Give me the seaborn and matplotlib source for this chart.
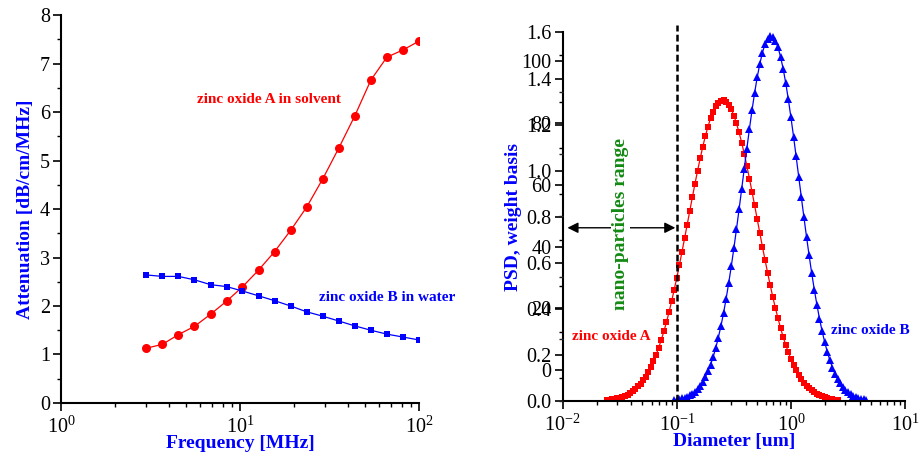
import matplotlib
matplotlib.use("Agg")
import matplotlib.pyplot as plt
import seaborn as sns
from matplotlib.ticker import MultipleLocator, LogLocator, NullFormatter, FormatStrFormatter

# attenuation spectra (left panel)
freq_mhz = [3.00, 3.69, 4.53, 5.57, 6.85, 8.42, 10.3, 12.7, 15.6, 19.2,
            23.6, 29.0, 35.7, 43.8, 53.9, 66.2, 81.4, 100.0]
atten_a = [1.13, 1.21, 1.41, 1.58, 1.83, 2.10, 2.39, 2.74, 3.12, 3.56,
           4.04, 4.62, 5.26, 5.92, 6.66, 7.13, 7.28, 7.46]
atten_b = [2.64, 2.61, 2.61, 2.54, 2.44, 2.40, 2.31, 2.21, 2.11, 2.00,
           1.88, 1.79, 1.69, 1.59, 1.50, 1.42, 1.36, 1.30]

# particle size distributions (right panel)
diameter_um = [0.02434, 0.02565, 0.02703, 0.02848, 0.03001, 0.03162, 0.03332, 0.03511,
               0.03700, 0.03899, 0.04108, 0.04329, 0.04561, 0.04806, 0.05065, 0.05337,
               0.05623, 0.05926, 0.06244, 0.06579, 0.06933, 0.07305, 0.07698, 0.08111,
               0.08547, 0.09006, 0.09490, 0.1000,
               0.1054, 0.1110, 0.1170, 0.1233, 0.1299, 0.1369, 0.1443, 0.1520, 0.1602,
               0.1688, 0.1778, 0.1874, 0.1975, 0.2081, 0.2192, 0.2310, 0.2434, 0.2565,
               0.2703, 0.2848, 0.3001, 0.3162, 0.3332, 0.3511, 0.3700, 0.3899, 0.4108,
               0.4329, 0.4561, 0.4806, 0.5065, 0.5337, 0.5623, 0.5926, 0.6244, 0.6579,
               0.6933, 0.7305, 0.7698, 0.8111, 0.8547, 0.9006, 0.9490,
               1.000, 1.054, 1.110, 1.170, 1.233, 1.299, 1.369, 1.443, 1.520, 1.602,
               1.688, 1.778, 1.874, 1.975, 2.081, 2.192, 2.310, 2.434, 2.565, 2.703,
               2.848, 3.001, 3.162, 3.332, 3.511, 3.700, 3.899, 4.108, 4.329, 4.561]
psd_a = [0.004, 0.006, 0.007, 0.009, 0.012, 0.015, 0.019, 0.023, 0.028, 0.035,
         0.043, 0.052, 0.063, 0.075, 0.090, 0.106, 0.126, 0.148, 0.172, 0.200,
         0.231, 0.265, 0.302, 0.342, 0.386, 0.434, 0.484, 0.536, 0.591, 0.648,
         0.707, 0.766, 0.826, 0.885, 0.944, 1.000, 1.053, 1.104, 1.150, 1.191,
         1.227, 1.256, 1.279, 1.295, 1.304, 1.306, 1.300, 1.286, 1.266, 1.239,
         1.205, 1.166, 1.122, 1.073, 1.021, 0.965, 0.908, 0.849, 0.789, 0.729,
         0.670, 0.613, 0.557, 0.503, 0.452, 0.404, 0.359, 0.317, 0.278, 0.243,
         0.211, 0.182, 0.157, 0.134, 0.113, 0.096, 0.080, 0.067, 0.056, 0.046,
         0.038, 0.031, 0.025, 0.020, 0.016, 0.013, 0.010, 0.008, 0.006, 0.005]
psd_b = [0.004, 0.006, 0.008, 0.011, 0.014, 0.019, 0.025, 0.032, 0.041, 0.053,
         0.067, 0.084, 0.104, 0.129, 0.157, 0.191, 0.230, 0.275, 0.325, 0.381,
         0.444, 0.512, 0.585, 0.664, 0.746, 0.832, 0.920, 1.009, 1.096, 1.182,
         1.263, 1.338, 1.406, 1.464, 1.512, 1.549, 1.573, 1.583, 1.581, 1.565,
         1.536, 1.494, 1.442, 1.380, 1.309, 1.231, 1.148, 1.062, 0.973, 0.885,
         0.798, 0.713, 0.632, 0.555, 0.484, 0.418, 0.358, 0.304, 0.256, 0.214,
         0.177, 0.145, 0.118, 0.096, 0.076, 0.061, 0.048, 0.037, 0.029, 0.022,
         0.017, 0.013, 0.010, 0.007, 0.005]
b_start = 26          # sample B starts at this diameter index
nano_limit_um = 0.1   # upper size of nano-particles

sns.set_theme(style="ticks")
plt.rcParams['font.family'] = ['Liberation Serif', 'DejaVu Serif']
plt.rcParams['mathtext.fontset'] = 'custom'
plt.rcParams['mathtext.rm'] = 'Liberation Serif'
plt.rcParams['mathtext.it'] = 'Liberation Serif:italic'
plt.rcParams['mathtext.bf'] = 'Liberation Serif:bold'

RED = "#ff0000"
BLUE = "#0000ff"
GREEN = "#138a13"
TICK_FS = 14.5
LABEL_FS = 14


def style_axes(ax):
    for s in ["top", "right"]:
        ax.spines[s].set_visible(False)
    for s in ["left", "bottom"]:
        ax.spines[s].set_linewidth(1.5)
        ax.spines[s].set_color("black")
    ax.tick_params(which="major", direction="out", length=6, width=1.2,
                   colors="black", labelsize=TICK_FS, pad=2)
    ax.tick_params(axis="x", which="major", pad=4)
    ax.tick_params(which="minor", direction="out", length=3, width=1.0, colors="black")
    ax.tick_params(axis="y", which="both", right=False)
    ax.tick_params(axis="x", which="both", top=False)
    ax.grid(False)


fig = plt.figure(figsize=(9.24, 4.55), dpi=100)
ax1 = fig.add_axes([0.066, 0.1143, 0.3874, 0.8527])
ax2 = fig.add_axes([0.609, 0.1187, 0.3705, 0.810])

# ---- left: attenuation ----
sns.lineplot(x=freq_mhz, y=atten_a, ax=ax1, color=RED, marker="o", markersize=6.5,
             markeredgewidth=0, lw=0.9)
sns.lineplot(x=freq_mhz, y=atten_b, ax=ax1, color=BLUE, marker="s", markersize=4.5,
             markeredgewidth=0, lw=0.9)
ax1.set_xscale("log")
ax1.set_xlim(1, 100)
ax1.set_ylim(0, 8)
ax1.yaxis.set_major_locator(MultipleLocator(1))
ax1.yaxis.set_minor_locator(MultipleLocator(0.5))
ax1.xaxis.set_minor_locator(LogLocator(base=10, subs=range(2, 10)))
ax1.xaxis.set_minor_formatter(NullFormatter())
style_axes(ax1)
ax1.set_xlabel("Frequency [MHz]", color=BLUE, fontsize=LABEL_FS, fontweight="bold", labelpad=-2)
ax1.set_ylabel("Attenuation [dB/cm/MHz]", color=BLUE, fontsize=LABEL_FS, fontweight="bold", labelpad=4)
ax1.text(14.5, 6.25, "zinc oxide A in solvent", color=RED, fontsize=11,
         fontweight="bold", ha="center", va="center")
ax1.text(66.8, 2.17, "zinc oxide B in water", color=BLUE, fontsize=11,
         fontweight="bold", ha="center", va="center", clip_on=False)

# ---- right: PSD ----
sns.lineplot(x=diameter_um[:len(psd_a)], y=psd_a, ax=ax2, color=RED, marker="s",
             markersize=4.3, markeredgewidth=0, lw=0.9)
sns.lineplot(x=diameter_um[b_start:b_start + len(psd_b)], y=psd_b, ax=ax2, color=BLUE,
             marker="^", markersize=5.2, markeredgewidth=0, lw=0.9)
ax2.set_xscale("log")
ax2.set_xlim(0.01, 10)
ax2.set_ylim(0, 1.6)
ax2.yaxis.set_major_locator(MultipleLocator(0.2))
ax2.yaxis.set_minor_locator(MultipleLocator(0.1))
ax2.yaxis.set_major_formatter(FormatStrFormatter("%.1f"))
ax2.xaxis.set_minor_locator(LogLocator(base=10, subs=range(2, 10)))
ax2.xaxis.set_minor_formatter(NullFormatter())
style_axes(ax2)
ax2.axvline(nano_limit_um, ymin=0, ymax=1.02, color="black", lw=1.8,
            dashes=(2.7, 1.3), clip_on=False, zorder=4)
ax2.set_xlabel("Diameter [um]", color=BLUE, fontsize=LABEL_FS, fontweight="bold", labelpad=-2)
ax2.set_ylabel("PSD, weight basis", color=BLUE, fontsize=LABEL_FS, fontweight="bold", labelpad=3)

ax2.annotate("", xy=(0.011, 0.752), xytext=(0.097, 0.752),
             arrowprops=dict(arrowstyle="<|-|>", color="black", lw=1.0,
                             mutation_scale=16, shrinkA=0, shrinkB=0), zorder=3)
ax2.text(0.032, 0.77, "nano-particles range", rotation=90, color=GREEN, fontsize=14,
         fontweight="bold", ha="center", va="center", zorder=6,
         bbox=dict(facecolor="white", edgecolor="none", pad=0.5))
ax2.text(0.0268, 0.278, "zinc oxide A", color=RED, fontsize=11, fontweight="bold",
         ha="center", va="center")
ax2.text(4.97, 0.308, "zinc oxide B", color=BLUE, fontsize=11, fontweight="bold",
         ha="center", va="center", clip_on=False)

# second (overlapping) scale on the same left spine
ax3 = ax2.twinx()
ax3.set_ylim(-10, 109.3)
ax3.yaxis.tick_left()
ax3.yaxis.set_major_locator(MultipleLocator(20))
ax3.yaxis.set_minor_locator(MultipleLocator(10))
for s in ax3.spines.values():
    s.set_visible(False)
ax3.tick_params(axis="y", which="major", direction="out", length=6, width=1.2,
                colors="black", labelsize=TICK_FS, pad=2, left=True, right=False,
                labelleft=True, labelright=False)
ax3.tick_params(axis="y", which="minor", direction="out", length=3, width=1.0,
                left=True, right=False)
ax3.grid(False)

fig.savefig("out.png", dpi=100)
